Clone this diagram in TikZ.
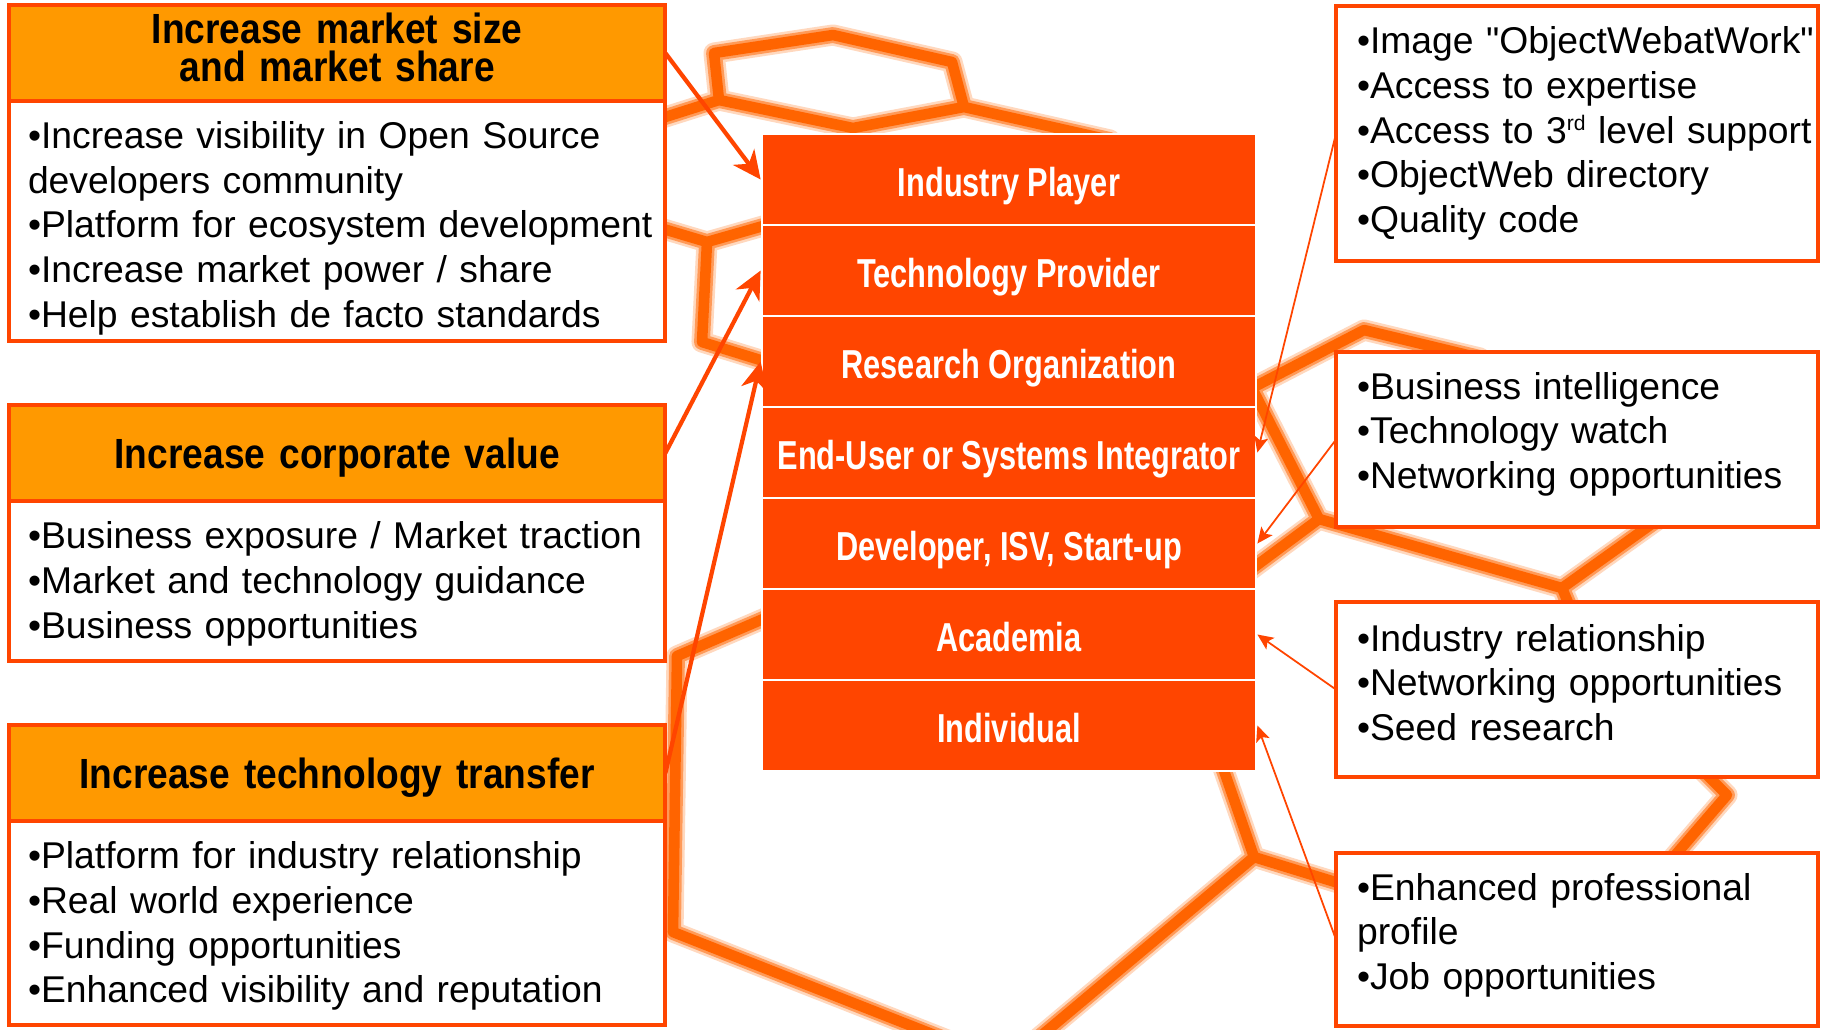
\documentclass[tikz,border=0pt]{standalone}
\usepackage{fontspec}
\setmainfont[Ligatures=TeXOff]{Liberation Sans}
\newfontfamily\headfont[FakeStretch=0.88]{Liberation Sans}
\newfontfamily\rowfont[FakeStretch=0.76]{Liberation Sans}
\usetikzlibrary{arrows.meta}
\definecolor{color_border}{HTML}{FF4500}
\definecolor{color_head}{HTML}{FF9900}
\definecolor{color_row}{HTML}{FF4500}
\definecolor{color_net_outer}{HTML}{FFD8BE}
\definecolor{color_net_mid}{HTML}{FF9A58}
\definecolor{color_net_core}{HTML}{FF6400}
\def\boxlinewidth{1.1pt}
\def\bodysize{\fontsize{10.6}{12.7}\selectfont}
\def\headsize{\fontsize{12}{10.8}\selectfont}
\def\rowsize{\fontsize{11.5}{13}\selectfont}
\def\rd{\raisebox{3.6pt}{\fontsize{6}{6}\selectfont rd}}
% blurred network in the back
\def\netpaths{
    (714,53) -- (833,35) -- (952,62) -- (964,107) -- (853,128) -- (719,100) -- cycle
    (640,125) -- (719,100)
    (964,107) -- (1110,140)
    (640,222) -- (707,242) -- (770,224)
    (707,242) -- (702,342) -- (770,363)
    (770,616) -- (677,656) -- (673,932) -- (960,1045)
    (1030,1045) -- (1254,857) -- (1222,765)
    (1254,857) -- (1345,885)
    (1480,358) -- (1364,330) -- (1252,388) -- (1319,519)
    (1245,574) -- (1319,519) -- (1562,588) -- (1660,518)
    (1562,588) -- (1572,612)
    (1700,768) -- (1727,795) -- (1671,860)
}
\tikzset{
    lift/.style={execute at end node={\par\vspace{#1}}},
    headbox/.style={draw=color_border, line width=\boxlinewidth, fill=color_head, outer sep=0pt,
        text width=6.36cm, inner xsep=0.1cm, inner ysep=0pt, minimum height=0.96cm, align=center,
        font=\headfont\bfseries\headsize, anchor=north west},
    bodybox/.style={draw=color_border, line width=\boxlinewidth, fill=white, outer sep=0pt,
        text width=6.18cm, inner xsep=0.19cm, inner ysep=0pt, align=left, font=\bodysize, anchor=north west},
    notebox/.style={draw=color_border, line width=\boxlinewidth, fill=white, outer sep=0pt,
        text width=4.40cm, inner xsep=0.21cm, inner ysep=0pt, align=left, font=\bodysize, anchor=north west},
    stackrow/.style={fill=color_row, draw=white, line width=0.7pt, minimum width=4.94cm, minimum height=0.91cm,
        text height=9.6pt, text depth=0pt, text=white, font=\rowfont\bfseries\rowsize},
    bigarrow/.style={color_border, line width=1.2pt, -{Stealth[length=8pt,width=7.5pt,inset=2.4pt]}},
    thinarrow/.style={color_border, line width=0.5pt, -{Stealth[length=4.5pt,width=4pt,inset=1pt]}}
}
\begin{document}
\begin{tikzpicture}[x=0.01cm,y=-0.01cm]
    \useasboundingbox (0,0) rectangle (1827,1029);
    \fill[white] (0,0) rectangle (1827,1029);
    \foreach \netwidth/\netcolor in {6pt/color_net_outer, 4.5pt/color_net_mid, 3pt/color_net_core}
        \draw[\netcolor, line width=\netwidth, line join=round, line cap=round] \netpaths;
    % goals on the left
    \node[headbox, lift=3.3pt] (hdr1) at (9,5) {Increase market size\\and market share};
    \node[bodybox, minimum height=2.40cm, lift=-4pt] (body1) at (hdr1.south west)
        {\textbullet Increase visibility in Open Source\\developers community\\\mbox{\textbullet Platform for ecosystem development}\\\textbullet Increase market power / share\\\textbullet Help establish de facto standards};
    \node[headbox, lift=-3.3pt] (hdr2) at (9,405) {Increase corporate value};
    \node[bodybox, minimum height=1.60cm, lift=-1.5pt] (body2) at (hdr2.south west)
        {\mbox{\textbullet Business exposure / Market traction}\\\textbullet Market and technology guidance\\\textbullet Business opportunities};
    \node[headbox, lift=-3.3pt] (hdr3) at (9,725) {Increase technology transfer};
    \node[bodybox, minimum height=2.04cm, lift=-1.7pt] (body3) at (hdr3.south west)
        {\textbullet Platform for industry relationship\\\textbullet Real world experience\\\textbullet Funding opportunities\\\textbullet Enhanced visibility and reputation};
    % member stack
    \foreach \rowname/\rowtext [count=\i from 0] in {ip/Industry Player, tp/Technology Provider, ro/Research Organization,
            eu/End-User or Systems Integrator, dev/{Developer, ISV, Start-up}, aca/Academia, ind/Individual}
        \node[stackrow] (\rowname) at (1009, 179.5+91*\i) {\rowtext};
    % benefits on the right
    \node[notebox, minimum width=4.82cm, minimum height=2.55cm] (rb1) at (1336,6)
        {\mbox{\textbullet Image "ObjectWebatWork"}\\\textbullet Access to expertise\\\mbox{\textbullet Access to 3\rd\ level support}\\\textbullet ObjectWeb directory\\\textbullet Quality code};
    \node[notebox, minimum width=4.82cm, minimum height=1.75cm, lift=3pt] (rb2) at (1336,352)
        {\textbullet Business intelligence\\\textbullet Technology watch\\\textbullet Networking opportunities};
    \node[notebox, minimum width=4.82cm, minimum height=1.75cm, lift=4pt] (rb3) at (1336,602)
        {\textbullet Industry relationship\\\textbullet Networking opportunities\\\textbullet Seed research};
    \node[notebox, minimum width=4.82cm, minimum height=1.73cm, lift=2.4pt] (rb4) at (1336,853)
        {\textbullet Enhanced professional\\profile\\\textbullet Job opportunities};
    % arrows
    \draw[bigarrow] (hdr1.east) -- (ip.west);
    \draw[bigarrow] (hdr2.east) -- (tp.west);
    \draw[bigarrow] (hdr3.east) -- (ro.west);
    \draw[thinarrow] (rb1.west) -- (eu.east);
    \draw[thinarrow] (rb2.west) -- (dev.east);
    \draw[thinarrow] (rb3.west) -- (aca.east);
    \draw[thinarrow] (rb4.west) -- (ind.east);
\end{tikzpicture}
\end{document}
